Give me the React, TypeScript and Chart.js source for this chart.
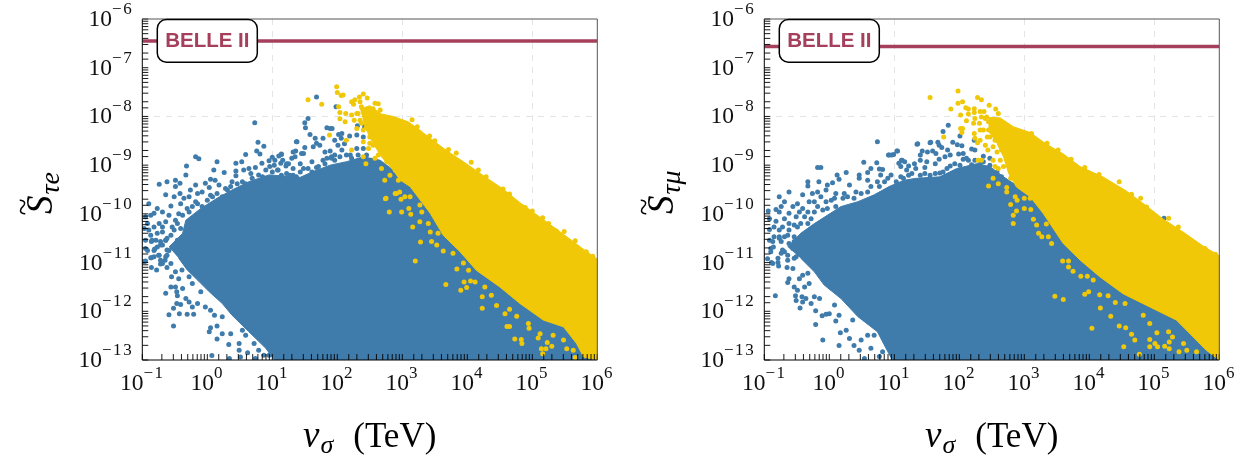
import React, { useEffect, useRef } from "react";
import { Chart, registerables } from "chart.js";

Chart.register(...registerables);

// All points are [log10(v_sigma / TeV), log10(S)].
const leftBlueOutline = [[-0.59,-10.68],[-0.38,-10.4],[-0.33,-10.13],[-0.1,-9.89],[0.15,-9.68],[0.38,-9.51],[0.64,-9.34],[0.95,-9.2],[1.15,-9.22],[1.43,-9.25],[1.63,-9.13],[1.89,-9],[2.14,-8.93],[2.4,-8.83],[2.66,-8.9],[2.96,-9.2],[6,-12.8],[6,-13],[1.03,-13],[0.9,-12.76],[0.64,-12.42],[0.38,-12.08],[0.23,-11.84],[0.03,-11.6],[-0.15,-11.36],[-0.31,-11.15],[-0.44,-10.91]];
const leftBluePoints = [[0.78,-8.53],[0.87,-8.61],[0.76,-8.71],[0.81,-8.77],[-0.18,-8.83],[-0.13,-8.87],[0.59,-8.78],[0.15,-8.93],[-0.32,-9.02],[0.44,-8.96],[0.53,-8.93],[0.1,-9.1],[0.26,-9.15],[0.44,-9.12],[0.56,-9.1],[0.64,-9.07],[0.74,-9.05],[0.84,-8.96],[0.95,-8.91],[1,-8.84],[1.1,-8.81],[0.67,-9.17],[0.79,-9.2],[0.9,-9.1],[1.03,-9],[-0.33,-9.2],[0.05,-9.29],[0.12,-9.31],[0.44,-9.22],[-0.62,-9.34],[-0.74,-9.39],[-0.49,-9.31],[-0.42,-9.37],[-0.18,-9.41],[-0.03,-9.37],[0.18,-9.41],[-0.49,-9.44],[-0.26,-9.51],[-0.08,-9.55],[0.03,-9.46],[0.28,-9.48],[0.38,-9.34],[0.54,-9.34],[-0.64,-9.61],[-0.42,-9.58],[-0.15,-9.58],[-0.51,-9.65],[-0.36,-9.68],[-0.28,-9.65],[0.08,-9.65],[-0.9,-9.79],[-0.56,-9.84],[-0.41,-9.79],[-0.18,-9.75],[-0.69,-9.96],[-0.31,-9.89],[-0.77,-9.89],[-0.82,-9.99],[-0.95,-10.06],[-0.59,-10.03],[-0.44,-10],[-0.87,-10.03],[-0.64,-10.16],[-0.74,-10.2],[-0.54,-10.27],[-0.92,-10.2],[-0.82,-10.27],[-0.69,-10.37],[-0.87,-10.44],[-0.62,-10.5],[-0.97,-10.3],[-0.77,-10.4],[-0.49,-10.13],[-0.41,-10.3],[-0.85,-10.54],[-0.69,-10.64],[-0.77,-10.68],[-0.59,-10.75],[-0.82,-10.75],[-0.74,-10.85],[-0.87,-10.9],[-0.64,-10.88],[-0.97,-10.98],[-0.56,-11.02],[-0.69,-11.02],[-0.95,-10.97],[-0.86,-10.9],[-0.75,-10.85],[-0.81,-10.72],[-0.95,-10.71],[-0.86,-10.57],[-0.72,-10.64],[-0.64,-10.54],[-0.62,-10.74],[-0.65,-10.95],[-0.72,-11.03],[-0.86,-11.1],[-0.78,-11.15],[-0.62,-11.1],[-0.49,-11.19],[-0.39,-11.15],[-0.55,-11.29],[-0.44,-11.33],[-0.28,-11.29],[-0.56,-11.5],[-0.49,-11.5],[-0.38,-11.53],[-0.64,-11.63],[-0.47,-11.6],[-0.46,-11.68],[-0.23,-11.43],[-0.1,-11.6],[-0.33,-11.74],[-0.28,-11.81],[-0.15,-11.84],[-0.47,-11.84],[-0.41,-11.86],[-0.23,-11.91],[-0.52,-11.94],[-0.03,-11.91],[-0.59,-12.07],[-0.43,-12.05],[-0.31,-12.06],[-0.21,-12.06],[0.05,-11.98],[0.11,-12.08],[0.23,-12.11],[-0.52,-12.3],[0.03,-12.42],[0.05,-12.34],[0.15,-12.3],[0.23,-12.46],[0.15,-12.57],[0.36,-12.46],[0.33,-12.68],[0.49,-12.66],[0.49,-12.8],[0.62,-12.85],[0.07,-12.91],[0.34,-12.97],[0.51,-12.94],[0.74,-12.97],[0.87,-12.9],[0.59,-12.49],[0.54,-12.39],[0.72,-12.66],[0.79,-12.8],[0.95,-12.9]];
const leftBlueDense = [[-0.28,-9.96],[-0.23,-9.85],[-0.15,-9.79],[-0.08,-9.85],[0,-9.72],[0.05,-9.62],[0.15,-9.58],[0.23,-9.65],[0.31,-9.51],[0.36,-9.44],[0.46,-9.38],[0.51,-9.48],[0.59,-9.38],[0.69,-9.27],[0.77,-9.34],[0.85,-9.24],[0.92,-9.27],[1,-9.14],[1.08,-9.1],[1.13,-8.96],[-0.38,-10.03],[-0.46,-10.2],[-0.56,-10.44],[-0.51,-10.33],[-0.64,-10.54],[-0.72,-10.57],[-0.79,-10.54],[-0.69,-10.27],[-0.9,-10.33],[-0.95,-10.54],[-0.92,-10.75],[-0.82,-10.88],[-0.72,-10.95],[-0.62,-10.85],[-0.54,-10.68],[-0.46,-10.54],[1.22,-9.17],[1.32,-9.21],[1.48,-9.07],[1.68,-9.05],[1.81,-8.97],[1.96,-8.9],[2.04,-8.83],[2.14,-8.79],[2.22,-8.86],[2.32,-8.79],[2.45,-8.79],[2.53,-8.9],[2.63,-9.03],[2.71,-9.14],[1.84,-8.86],[1.61,-9.14],[1.37,-9.24],[1.96,-8.79]];
const leftBluePeak = [[1.68,-7.6],[1.98,-7.8],[1.55,-8.04],[1.5,-8.13],[1.51,-8.23],[1.58,-8.37],[1.84,-8.23],[1.89,-8.25],[1.92,-8.25],[2.02,-8.37],[2.07,-8.35],[2.19,-8.4],[2.3,-8.38],[2.31,-8.19],[2.42,-8.21],[1.38,-8.52],[1.66,-8.45],[1.78,-8.45],[1.96,-8.49],[2.06,-8.45],[1.5,-8.64],[1.36,-8.71],[1.63,-8.62],[1.73,-8.59],[2.01,-8.59],[2.11,-8.56],[2.4,-8.42],[1.14,-8.77],[1.48,-8.76],[1.68,-8.55],[1.81,-8.73],[1.89,-8.71],[1.3,-8.86],[1.16,-8.9],[1.35,-8.83],[1.91,-8.83],[2.07,-8.69],[2.2,-8.79],[2.3,-8.66],[2.4,-8.66],[1.25,-8.97],[1.21,-9.02],[1.43,-8.97],[1.61,-8.93],[1.78,-8.9],[1.32,-9.07],[1.55,-9.07],[1.71,-9.03],[1.14,-9.21],[1.27,-9.21],[1.43,-9.14],[1.91,-8.86],[0.73,-8.13],[1.04,-8.9],[0.96,-9.03],[1.32,-8.73],[1.37,-8.52],[1.22,-8.97],[1.09,-9.1],[1.45,-8.76],[1.14,-8.78]];
const leftYellowOutline = [[2.35,-7.85],[2.5,-7.78],[2.68,-7.95],[2.86,-8],[3.09,-8.11],[3.27,-8.28],[3.4,-8.42],[3.68,-8.7],[3.94,-8.93],[4.25,-9.22],[4.55,-9.49],[4.81,-9.77],[5.12,-10.07],[5.48,-10.42],[5.79,-10.73],[6,-10.93],[6,-13],[5.79,-12.94],[5.68,-12.66],[5.48,-12.32],[5.17,-12.18],[4.81,-11.84],[4.5,-11.5],[4.14,-11.16],[3.89,-10.78],[3.63,-10.44],[3.43,-9.99],[3.12,-9.44],[2.96,-9.3],[2.86,-9.1],[2.68,-8.83],[2.55,-8.55],[2.42,-8.2]];
const leftYellowPoints = [[1.99,-7.39],[2,-7.51],[2.06,-7.57],[2.09,-7.56],[1.55,-7.66],[1.76,-7.75],[2.22,-7.7],[2.4,-7.54],[2.46,-7.62],[2.34,-7.6],[2.27,-7.66],[2.35,-7.7],[2.37,-7.8],[2.25,-7.75],[2.58,-7.73],[2.63,-7.74],[2.48,-7.84],[2.02,-7.8],[2.04,-7.92],[2.13,-7.94],[2.04,-8.05],[2.12,-8.11],[2.22,-7.97],[2.26,-8.08],[2.32,-7.94],[2.43,-7.94],[2.55,-7.84],[2.66,-7.87],[2.3,-8.25],[1.88,-8.38],[2.14,-8.49],[2.35,-8.08],[2.44,-8.08],[2.4,-8.28],[2.48,-8.25],[2.5,-8.42],[2.4,-8.52],[2.6,-8.42],[2.22,-8.69],[2.48,-8.66],[2.55,-8.59],[2.4,-8.83],[2.58,-8.86],[2.63,-8.79],[2.44,-8.97],[2.76,-8.93],[2.68,-9.07],[2.73,-9.31],[2.81,-9.21],[2.74,-9.69],[2.89,-9.58],[2.96,-9.55],[3.04,-9.65],[3.12,-9.65],[2.89,-9.1],[2.94,-9.31],[2.53,-8.38],[3.15,-8.07],[3.23,-8.21],[3.42,-8.4],[3.5,-8.5],[3.71,-8.68],[3.83,-8.75],[4.06,-8.94],[4.17,-9.1],[4.29,-9.24],[4.55,-9.49],[4.65,-9.59],[4.89,-9.87],[5,-9.94],[5.16,-10.08],[5.25,-10.2],[5.37,-10.35],[5.49,-10.36],[5.66,-10.55],[5.83,-10.78],[5.93,-10.87],[2.75,-9.68],[2.8,-9.96],[2.99,-9.96],[2.91,-9.58],[2.98,-9.7],[3.1,-9.89],[3.13,-10.01],[3.16,-10.27],[3.28,-10.58],[3.2,-10.97],[3.27,-9.82],[3.3,-9.96],[3.27,-10.16],[3.4,-10.2],[3.43,-10.37],[3.45,-10.57],[3.53,-10.64],[3.63,-10.76],[3.55,-10.4],[3.67,-11.45],[3.84,-11.13],[3.9,-11.57],[3.95,-11.4],[3.99,-11.51],[4.05,-11.38],[4.12,-11.4],[4.02,-11.16],[3.94,-11.01],[3.78,-10.81],[4.23,-11.7],[4.23,-11.94],[4.27,-11.5],[4.37,-11.67],[4.45,-11.88],[4.58,-12.05],[4.61,-12.31],[4.65,-12.31],[4.65,-11.96],[4.76,-12.1],[4.73,-12.57],[4.84,-12.66],[4.83,-12.58],[4.94,-12.25],[4.95,-12.35],[5.09,-12.55],[5.12,-12.46],[5.14,-12.77],[5.21,-12.77],[5.16,-12.87],[5.23,-12.64],[5.3,-12.72],[5.32,-12.49],[5.48,-12.59],[5.53,-12.77],[5.63,-12.8],[5.66,-12.95],[2.3,-7.94],[2.5,-8],[2.58,-7.97],[2.6,-8.14],[2.45,-8.21],[2.37,-8.14],[2.55,-8.28],[2.5,-8.55],[2.63,-8.28],[2.66,-8.62]];

const rightBlueOutline = [[-0.64,-10.68],[-0.44,-10.4],[-0.23,-10.2],[0.18,-9.85],[0.44,-9.75],[0.69,-9.61],[0.92,-9.44],[1.15,-9.31],[1.34,-9.27],[1.7,-9.24],[1.96,-9.07],[2.27,-8.97],[2.47,-9.03],[2.68,-9.24],[3.09,-9.6],[6,-12.8],[6,-13],[0.97,-13],[0.9,-12.83],[0.74,-12.42],[0.44,-12.11],[0.18,-11.74],[-0.08,-11.46],[-0.23,-11.19],[-0.44,-10.91]];
const rightBluePoints = [[0.74,-8.52],[0.92,-8.79],[0.99,-8.78],[1.05,-8.71],[1.12,-8.9],[1.07,-8.96],[1.1,-9.03],[0.53,-8.94],[0.73,-8.95],[-0.18,-9.05],[-0.13,-9.05],[0.26,-9.15],[0.12,-9.2],[0.77,-9.08],[0.82,-9.09],[0.64,-9.07],[0.59,-9.15],[0.46,-9.2],[0.15,-9.29],[-0.33,-9.34],[-0.16,-9.34],[0.05,-9.36],[-0.03,-9.41],[0.31,-9.41],[0.46,-9.27],[0.59,-9.31],[0.79,-9.2],[0.95,-9.2],[0.74,-9.34],[-0.62,-9.55],[-0.33,-9.43],[-0.41,-9.61],[-0.26,-9.58],[-0.18,-9.55],[-0.05,-9.51],[0.1,-9.58],[0.23,-9.58],[0.41,-9.55],[-0.77,-9.65],[-0.69,-9.75],[-0.49,-9.79],[-0.31,-9.75],[-0.13,-9.65],[0.03,-9.72],[-0.74,-9.85],[-0.82,-9.91],[-0.56,-9.85],[-0.41,-9.89],[-0.94,-9.94],[-0.77,-9.96],[-0.62,-9.99],[-0.33,-9.96],[-0.1,-9.92],[-0.92,-10.1],[-0.69,-10.1],[-0.51,-10.06],[-0.82,-10.15],[-0.28,-10.1],[-0.62,-10.2],[-0.49,-10.27],[-0.92,-10.32],[-0.77,-10.33],[-0.85,-10.47],[-0.64,-10.44],[-0.54,-10.47],[-0.74,-10.57],[-0.86,-10.68],[-0.69,-10.78],[-0.56,-10.71],[-0.95,-10.92],[-0.79,-11],[-0.89,-11],[-0.64,-10.95],[-0.51,-10.88],[-0.87,-11.02],[-0.78,-11.07],[-0.65,-11.1],[-0.56,-11.12],[-0.79,-10.91],[-0.72,-10.74],[-0.9,-10.71],[-0.87,-10.57],[-0.77,-10.5],[-0.64,-10.85],[-0.54,-10.91],[-0.62,-11.33],[-0.64,-11.41],[-0.46,-11.33],[-0.41,-11.26],[-0.33,-11.22],[-0.38,-11.5],[-0.31,-11.43],[-0.54,-11.5],[-0.49,-11.57],[-0.42,-11.7],[-0.36,-11.74],[-0.23,-11.7],[-0.15,-11.74],[-0.52,-11.68],[-0.51,-11.78],[-0.41,-11.81],[-0.28,-11.84],[-0.83,-11.68],[-0.45,-11.93],[-0.21,-11.99],[-0.11,-12.09],[-0.05,-12.06],[0,-12.05],[-0.21,-12.27],[-0.1,-12.59],[0.15,-12.7],[0.17,-12.44],[0.1,-12.2],[0.26,-12.39],[0.31,-12.56],[0.38,-12.7],[0.46,-12.8],[0.54,-12.97],[0.64,-12.76],[0.77,-12.93],[0.49,-12.59],[0.69,-12.49],[0.82,-12.83],[0.08,-11.87],[0.15,-12.08],[0.36,-12.18],[0.59,-12.49]];
const rightBlueDense = [[-0.69,-10.47],[-0.77,-10.47],[-0.92,-10.54],[-0.9,-10.78],[-0.74,-10.81],[-0.62,-10.61],[-0.54,-10.57],[-0.44,-10.2],[-0.33,-10.2],[-0.38,-10.06],[-0.46,-9.96],[-0.23,-9.96],[-0.18,-9.85],[-0.23,-9.75],[-0.05,-9.75],[0.08,-9.68],[-0.03,-9.89],[0.1,-9.85],[0.21,-9.68],[0.28,-9.65],[0.38,-9.68],[0.49,-9.58],[0.59,-9.55],[0.64,-9.44],[0.77,-9.44],[0.85,-9.34],[1.03,-9.34],[1.1,-9.24],[0.9,-9.27],[-0.72,-10.27],[-0.85,-10.27],[-0.62,-10.33],[-0.54,-10.23],[1.14,-9.27],[1.27,-9.17],[1.4,-9.21],[1.47,-9.17],[1.63,-9.17],[1.81,-9.07],[1.93,-8.97],[2.01,-9],[2.11,-8.86],[2.24,-8.9],[2.37,-8.93],[2.47,-9],[2.58,-9.14],[2.65,-9.24],[1.75,-9.14]];
const rightBluePeak = [[1.83,-8.18],[1.75,-8.31],[2.01,-8.4],[1.35,-8.57],[1.56,-8.53],[1.67,-8.53],[1.69,-8.59],[1.73,-8.64],[1.9,-8.53],[1.97,-8.58],[2.04,-8.6],[2.23,-8.49],[2.24,-8.69],[1.43,-8.71],[1.51,-8.73],[1.59,-8.71],[1.64,-8.76],[1.82,-8.69],[1.4,-8.79],[1.99,-8.77],[2.06,-8.76],[2.19,-8.67],[1.4,-8.9],[1.78,-8.83],[1.86,-8.79],[1.11,-8.9],[1.16,-8.93],[1.31,-8.97],[1.5,-8.93],[1.63,-8.97],[1.69,-8.88],[2.06,-8.88],[1.22,-9.02],[1.19,-9.1],[1.33,-9.07],[1.47,-9.05],[1.86,-9.02],[2.14,-8.9],[2.19,-8.99],[2.32,-8.97],[2.47,-8.86],[2.37,-8.82],[1.22,-9.21],[1.55,-9.21],[1.7,-9.16],[5.15,-10.09],[1.36,-8.56],[1.55,-8.54],[1.04,-8.71],[0.96,-8.79],[0.91,-8.79]];
const rightYellowOutline = [[2.45,-8.02],[2.63,-8.03],[2.83,-8.21],[3.09,-8.33],[3.34,-8.57],[3.6,-8.77],[3.86,-9.03],[4.22,-9.25],[4.57,-9.53],[4.88,-9.84],[5.14,-10.11],[5.45,-10.38],[5.75,-10.66],[6,-10.86],[6,-13],[5.8,-12.8],[5.6,-12.53],[5.34,-12.18],[4.93,-11.91],[4.52,-11.64],[4.16,-11.29],[3.86,-10.95],[3.6,-10.61],[3.29,-9.99],[3.09,-9.65],[2.88,-9.45],[2.76,-9.17],[2.68,-8.83],[2.58,-8.55],[2.45,-8.3]];
const rightYellowPoints = [[1.98,-7.48],[1.55,-7.61],[1.98,-7.73],[2.05,-7.7],[2.28,-7.61],[2.34,-7.66],[2.46,-7.77],[2.56,-7.85],[1.87,-7.85],[2.1,-7.82],[2.14,-7.85],[2.23,-7.84],[2.23,-7.92],[2.02,-7.97],[2.14,-7.95],[2.32,-7.9],[2.38,-7.9],[2.6,-7.94],[2.11,-8.09],[2.24,-8.04],[2.34,-8.01],[2.42,-8.01],[2.52,-8.07],[2.31,-8.14],[2.02,-8.25],[2.05,-8.25],[2.04,-8.33],[1.76,-8.42],[2.23,-8.35],[2.32,-8.28],[2.45,-8.11],[2.24,-8.45],[2.32,-8.49],[2.28,-8.54],[2.45,-8.28],[2.47,-8.42],[2.4,-8.59],[2.55,-8.49],[2.63,-8.59],[2.44,-8.69],[2.58,-8.73],[2.29,-8.9],[2.34,-8.9],[2.52,-8.9],[2.55,-9.03],[2.6,-9.07],[2.52,-9.27],[2.45,-9.43],[2.6,-9.38],[2.73,-9.46],[2.73,-9.55],[2.79,-9.27],[2.86,-9.65],[2.89,-9.72],[3,-9.68],[3.09,-9.68],[3.11,-8.35],[3.35,-8.55],[3.52,-8.69],[3.72,-8.88],[3.93,-9.05],[4.15,-9.19],[4.46,-9.34],[4.65,-9.6],[4.79,-9.68],[4.88,-9.86],[5.37,-10.27],[5.6,-10.61],[5.78,-10.71],[5.94,-10.83],[2.79,-9.81],[2.83,-10.03],[2.88,-9.94],[2.83,-10.2],[3,-9.89],[3.1,-9.91],[3.14,-10.11],[3.19,-10.23],[3.22,-10.4],[3.27,-10.47],[3.34,-10.21],[3.37,-10.47],[3.42,-10.61],[3.47,-11.69],[3.6,-11.76],[3.59,-10.97],[3.68,-10.97],[3.68,-11.09],[3.75,-11.18],[3.87,-11.28],[3.97,-11.28],[3.93,-11.65],[3.99,-11.6],[4.06,-11.36],[4.16,-11.66],[4.17,-11.93],[4.04,-12.35],[4.33,-12.1],[4.29,-11.68],[4.4,-11.82],[4.55,-11.84],[4.46,-12.3],[4.56,-12.34],[4.65,-12.47],[4.7,-12.59],[4.53,-12.73],[4.77,-12.88],[4.83,-12.08],[4.93,-12.25],[4.93,-12.58],[4.93,-12.73],[5.01,-12.66],[5.05,-12.73],[5.04,-12.44],[5.16,-12.72],[5.23,-12.77],[5.23,-12.63],[5.22,-12.42],[5.28,-12.53],[5.38,-12.83],[5.45,-12.66],[5.5,-12.8],[5.65,-12.83],[5.22,-10.09],[2.22,-8.14],[2.37,-8.28],[2.43,-8.42],[2.5,-8.21],[2.58,-8.28],[2.65,-8.45],[2.52,-8.62],[2.65,-8.69],[2.63,-8.9],[2.68,-9.03],[2.4,-8.04]];

const belleLeft = 3.55e-7;
const belleRight = 2.72e-7;
const belleLabel = "BELLE II";
const belleLabelX = 1;
const belleLabelY = 3.55e-7;
const gridX = [1e1, 1e3, 1e5];
const gridY = [1e-8];

const BLUE = "#3F7CAC";
const YELLOW = "#F0C808";
const RED = "#A53F5B";
const SERIF = '"Liberation Serif"';

const toPts = (a: number[][]) => a.map(([x, y]) => ({ x: 10 ** x, y: 10 ** y }));
const isDecade = (v: number) => Math.abs(Math.log10(v) - Math.round(Math.log10(v))) < 1e-6;
const near = (v: number, list: number[]) => list.some((g) => Math.abs(Math.log10(v) - Math.log10(g)) < 1e-6);
const expOf = (v: number) => String(Math.round(Math.log10(v))).replace("-", "−");
const tickLabel = (v: any) => (isDecade(Number(v)) ? "10^" + expOf(Number(v)) : "");

const overlay = {
  id: "overlay",
  afterDatasetsDraw(chart: any) {
    const { ctx, chartArea: a, scales: { x, y } } = chart;
    ctx.save();
    ctx.strokeStyle = "#000";
    ctx.lineWidth = 0.9;
    ctx.beginPath();
    for (const t of x.ticks) { const p = x.getPixelForValue(t.value); ctx.moveTo(p, a.bottom); ctx.lineTo(p, a.bottom - 6); }
    for (const t of y.ticks) { const p = y.getPixelForValue(t.value); ctx.moveTo(a.left, p); ctx.lineTo(a.left + 6, p); }
    ctx.stroke();
    ctx.lineWidth = 1;
    ctx.strokeStyle = "#000";
    ctx.beginPath(); ctx.moveTo(a.left, a.top); ctx.lineTo(a.left, a.bottom); ctx.lineTo(a.right, a.bottom); ctx.stroke();
    ctx.strokeStyle = "#555";
    ctx.beginPath(); ctx.moveTo(a.left, a.top); ctx.lineTo(a.right, a.top); ctx.lineTo(a.right, a.bottom); ctx.stroke();

    // tick labels with real superscripts, placed from the scales
    ctx.fillStyle = "#111";
    ctx.textBaseline = "alphabetic";
    ctx.textAlign = "left";
    const base = `23.5px ${SERIF}`, sup = `17px ${SERIF}`;
    const draw = (v: number, leftX: number, baseY: number) => {
      ctx.font = base; ctx.letterSpacing = "0px";
      ctx.fillText("10", leftX, baseY);
      const w = ctx.measureText("10").width;
      ctx.font = sup; ctx.letterSpacing = "1.6px";
      ctx.fillText(expOf(v), leftX + w, baseY - 12);
      ctx.letterSpacing = "0px";
    };
    const widthOf = (v: number) => {
      ctx.font = base; ctx.letterSpacing = "0px"; const w = ctx.measureText("10").width;
      ctx.font = sup; ctx.letterSpacing = "1.6px"; const s = ctx.measureText(expOf(v)).width;
      ctx.letterSpacing = "0px"; return w + s;
    };
    for (const t of x.ticks) if (isDecade(t.value)) draw(t.value, x.getPixelForValue(t.value) - widthOf(t.value) / 2, a.bottom + 30);
    for (const t of y.ticks) if (isDecade(t.value)) draw(t.value, a.left - 9 - widthOf(t.value), y.getPixelForValue(t.value) + 7);

    const cx = x.getPixelForValue(belleLabelX), cy = y.getPixelForValue(belleLabelY);
    ctx.beginPath();
    ctx.roundRect(cx - 50, cy - 21.3, 100, 42.6, 9);
    ctx.fillStyle = "#fff"; ctx.fill();
    ctx.lineWidth = 1.5; ctx.strokeStyle = "#000"; ctx.stroke();
    ctx.fillStyle = RED;
    ctx.font = 'bold 20.5px "Liberation Sans"';
    ctx.textAlign = "center"; ctx.textBaseline = "middle";
    ctx.fillText(belleLabel, cx, cy + 0.5);
    ctx.restore();
  },
};

const fit = (key: "width" | "height", size: number) => (s: any) => {
  s[key] = size; s.paddingTop = 0; s.paddingBottom = 0; s.paddingLeft = 0; s.paddingRight = 0;
};

function Panel({ left, width, plotLeft, plotRight, blueO, blueP, yellowO, yellowP, limit }: any) {
  const ref = useRef<HTMLCanvasElement>(null);
  useEffect(() => {
    const chart = new Chart(ref.current!, {
      type: "scatter",
      data: {
        datasets: [
          { data: [{ x: 0.1, y: limit }, { x: 1e6, y: limit }], showLine: true, borderColor: RED, borderWidth: 3.5, pointRadius: 0, order: 0 },
          { data: toPts(yellowP), backgroundColor: YELLOW, pointRadius: 2.5, pointBorderWidth: 0, order: 1 },
          { data: toPts(yellowO), showLine: true, fill: "shape", backgroundColor: YELLOW, borderColor: YELLOW, borderWidth: 1, pointRadius: 0, order: 2 },
          { data: toPts(blueP), backgroundColor: BLUE, pointRadius: 2.5, pointBorderWidth: 0, order: 3 },
          { data: toPts(blueO), showLine: true, fill: "shape", backgroundColor: BLUE, borderColor: BLUE, borderWidth: 1, pointRadius: 0, order: 4 },
        ] as any,
      },
      plugins: [overlay],
      options: {
        animation: false,
        responsive: false,
        events: [],
        layout: { padding: { left: 0, right: width - plotRight, top: 19, bottom: 0 } },
        plugins: { legend: { display: false }, tooltip: { enabled: false } },
        scales: {
          x: {
            type: "logarithmic", min: 1e-1, max: 1e6, border: { display: false, dash: [6, 6] },
            afterFit: fit("height", 98),
            grid: { drawTicks: false, color: (c: any) => (c.tick && near(c.tick.value, gridX) ? "#e4e4e4" : "transparent"), lineWidth: 1 },
            ticks: { display: false, callback: tickLabel, autoSkip: false, maxRotation: 0 },
          } as any,
          y: {
            type: "logarithmic", min: 1e-13, max: 1e-6, border: { display: false, dash: [6, 6] },
            afterFit: fit("width", plotLeft),
            grid: { drawTicks: false, color: (c: any) => (c.tick && near(c.tick.value, gridY) ? "#e4e4e4" : "transparent"), lineWidth: 1 },
            ticks: { display: false, callback: tickLabel, autoSkip: false },
          } as any,
        },
      },
    });
    return () => chart.destroy();
  }, []);
  return <canvas ref={ref} width={width} height={458} style={{ position: "absolute", left, top: 0, width, height: 458 }} />;
}

const abs = (o: any) => ({ position: "absolute", fontFamily: SERIF, color: "#000", whiteSpace: "nowrap", ...o });

function XTitle({ left }: { left: number }) {
  return (
    <div style={abs({ left, top: 415, fontSize: 35, lineHeight: "40px" })}>
      <i style={{ fontSize: 37 }}>v</i>
      <i style={{ fontSize: 26, position: "relative", top: 6, marginLeft: 1 }}>σ</i>
      <span style={{ marginLeft: 20 }}>(TeV)</span>
    </div>
  );
}

function YTitle({ left, sub }: { left: number; sub: string }) {
  return (
    <div style={abs({ left, top: 214, fontSize: 37, lineHeight: "40px", transform: "rotate(-90deg)", transformOrigin: "0 0" })}>
      <span style={{ position: "relative", display: "inline-block" }}>
        <i>S</i>
        <span style={{ position: "absolute", left: -1, top: -17, fontSize: 30, transform: "scaleX(1.05)" }}>~</span>
      </span>
      <i style={{ fontSize: 28, position: "relative", top: 7, marginLeft: 1 }}>{sub}</i>
    </div>
  );
}

export default function App() {
  return (
    <div style={{ position: "absolute", left: 0, top: 0, width: 1247, height: 458, overflow: "hidden", background: "#fff" }}>
      <Panel left={0} width={620} plotLeft={142.3} plotRight={597.3} blueO={leftBlueOutline} blueP={[...leftBluePoints, ...leftBlueDense, ...leftBluePeak]} yellowO={leftYellowOutline} yellowP={leftYellowPoints} limit={belleLeft} />
      <Panel left={620} width={627} plotLeft={144.3} plotRight={599.3} blueO={rightBlueOutline} blueP={[...rightBluePoints, ...rightBlueDense, ...rightBluePeak]} yellowO={rightYellowOutline} yellowP={rightYellowPoints} limit={belleRight} />
      <XTitle left={303} />
      <XTitle left={925} />
      <YTitle left={20} sub="τe" />
      <YTitle left={641} sub="τμ" />
    </div>
  );
}
